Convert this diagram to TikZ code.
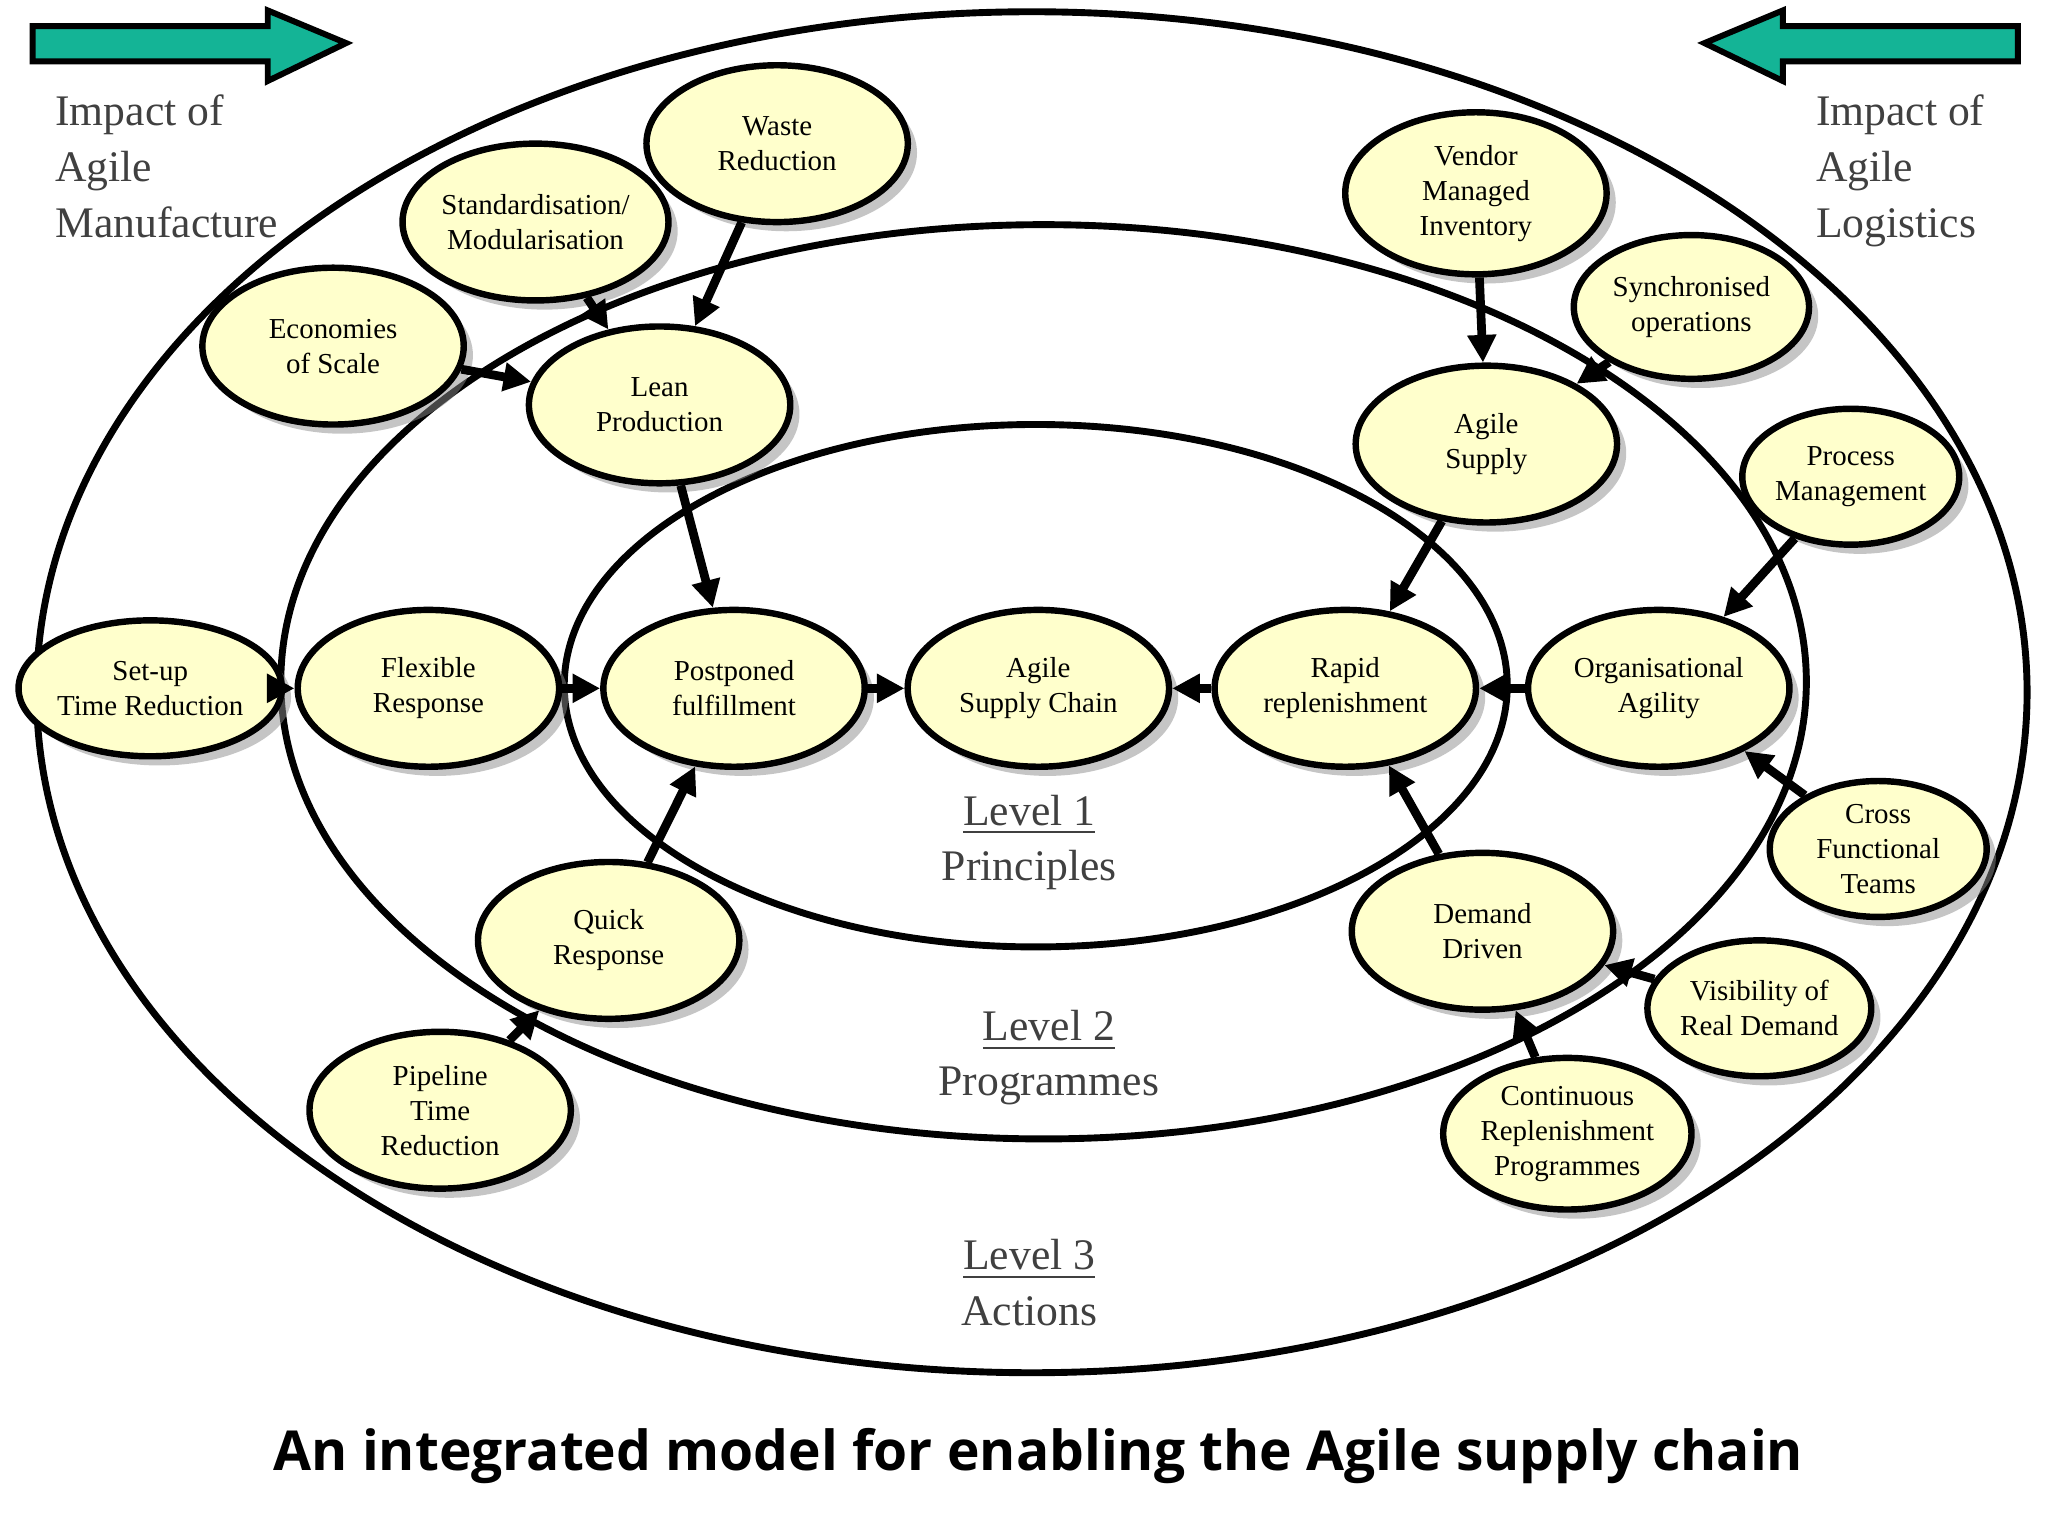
\documentclass[tikz,border=0pt]{standalone}
\usepackage{fontspec}
\setmainfont{Liberation Serif}
\newfontfamily\titlefont{Open Sans}
\usetikzlibrary{shapes.geometric,arrows.meta,shadows}
\begin{document}
\begin{tikzpicture}[x=0.01cm,y=-0.01cm,
  n/.style={ellipse,draw,line width=1.4pt,fill={rgb,255:red,255;green,255;blue,204},
    drop shadow={shadow xshift=2pt,shadow yshift=-2pt,fill=black!45},
    inner sep=0pt,align=center,font=\fontsize{6.3}{7.6}\selectfont,minimum width=2cm,minimum height=1.2cm},
  s/.style={n,minimum width=1.66cm,minimum height=1.04cm},
  a/.style={-{Triangle[length=6pt,width=6pt]},line width=1.9pt},
  ring/.style={line width=1.5pt},
  lab/.style={font=\fontsize{9.5}{12.2}\selectfont,text=black!75,align=left,anchor=north west},
  lev/.style={font=\fontsize{9.5}{12}\selectfont,text=black!75,align=center}]
\useasboundingbox (0,0) rectangle (1568,1176);
\definecolor{grn}{RGB}{20,180,150}
\draw[ring] (790,530) ellipse [x radius=762,y radius=521];
\draw[ring] (799,522) ellipse [x radius=584,y radius=350];
\draw[ring] (793,525) ellipse [x radius=361,y radius=200];
% green arrows
\draw[fill=grn,line width=1.3pt] (25,20)--(205,20)--(205,8)--(265,33)--(205,62)--(205,47)--(25,47)--cycle;
\draw[fill=grn,line width=1.3pt] (1545,20)--(1365,20)--(1365,8)--(1305,33)--(1365,62)--(1365,47)--(1545,47)--cycle;
\node[lab] (lm) at (30,60) {Impact of\\Agile\\Manufacture};
\node[lab] (ll) at (1378,60) {Impact of\\Agile\\Logistics};
\node[lev] (l1) at (788,645) {\underline{Level 1}\\Principles};
\node[lev] (l2) at (803,810) {\underline{Level 2}\\Programmes};
\node[lev] (l3) at (788,982) {\underline{Level 3}\\Actions};
% nodes
\node[n] (wr) at (595,110) {Waste\\Reduction};
\node[n] (st) at (410,170) {Standardisation/\\Modularisation};
\node[n] (ec) at (255,265) {Economies\\of Scale};
\node[n] (lp) at (505,310) {Lean\\Production};
\node[n,minimum height=1.24cm] (vm) at (1130,148) {Vendor\\Managed\\Inventory};
\node[n,minimum width=1.8cm,minimum height=1.1cm] (so) at (1295,235) {Synchronised\\operations};
\node[n] (as) at (1138,340) {Agile\\Supply};
\node[s] (pm) at (1417,365) {Process\\Management};
\node[s] (su) at (115,527) {Set-up\\Time Reduction};
\node[n] (fr) at (328,527) {Flexible\\Response};
\node[n] (pf) at (562,527) {Postponed\\fulfillment};
\node[n] (asc) at (795,527) {Agile\\Supply Chain};
\node[n] (rr) at (1030,527) {Rapid\\replenishment};
\node[n] (oa) at (1270,527) {Organisational\\Agility};
\node[s] (cf) at (1438,650) {Cross\\Functional\\Teams};
\node[n] (qr) at (466,720) {Quick\\Response};
\node[n] (dd) at (1135,713) {Demand\\Driven};
\node[s] (vr) at (1347,772) {Visibility of\\Real Demand};
\node[n] (pt) at (337,850) {Pipeline\\Time\\Reduction};
\node[n,minimum width=1.9cm,minimum height=1.16cm] (cr) at (1200,868) {Continuous\\Replenishment\\Programmes};
% arrows
\draw[a] (wr) -- (lp);
\draw[a] (st) -- (lp);
\draw[a] (ec) -- (lp);
\draw[a] (lp) -- (pf);
\draw[a] (su) -- (fr);
\draw[a] (fr) -- (pf);
\draw[a] (pf) -- (asc);
\draw[a] (rr) -- (asc);
\draw[a] (oa) -- (rr);
\draw[a] (qr) -- (pf);
\draw[a] (pt) -- (qr);
\draw[a] (vm) -- (as);
\draw[a] (so) -- (as);
\draw[a] (as) -- (rr);
\draw[a] (pm) -- (oa);
\draw[a] (cf) -- (oa);
\draw[a] (dd) -- (rr);
\draw[a] (vr) -- (dd);
\draw[a] (cr) -- (dd);
\node[font=\titlefont\bfseries\fontsize{12}{15}\selectfont] (t) at (795,1115) {An integrated model for enabling the Agile supply chain};
\end{tikzpicture}
\end{document}
